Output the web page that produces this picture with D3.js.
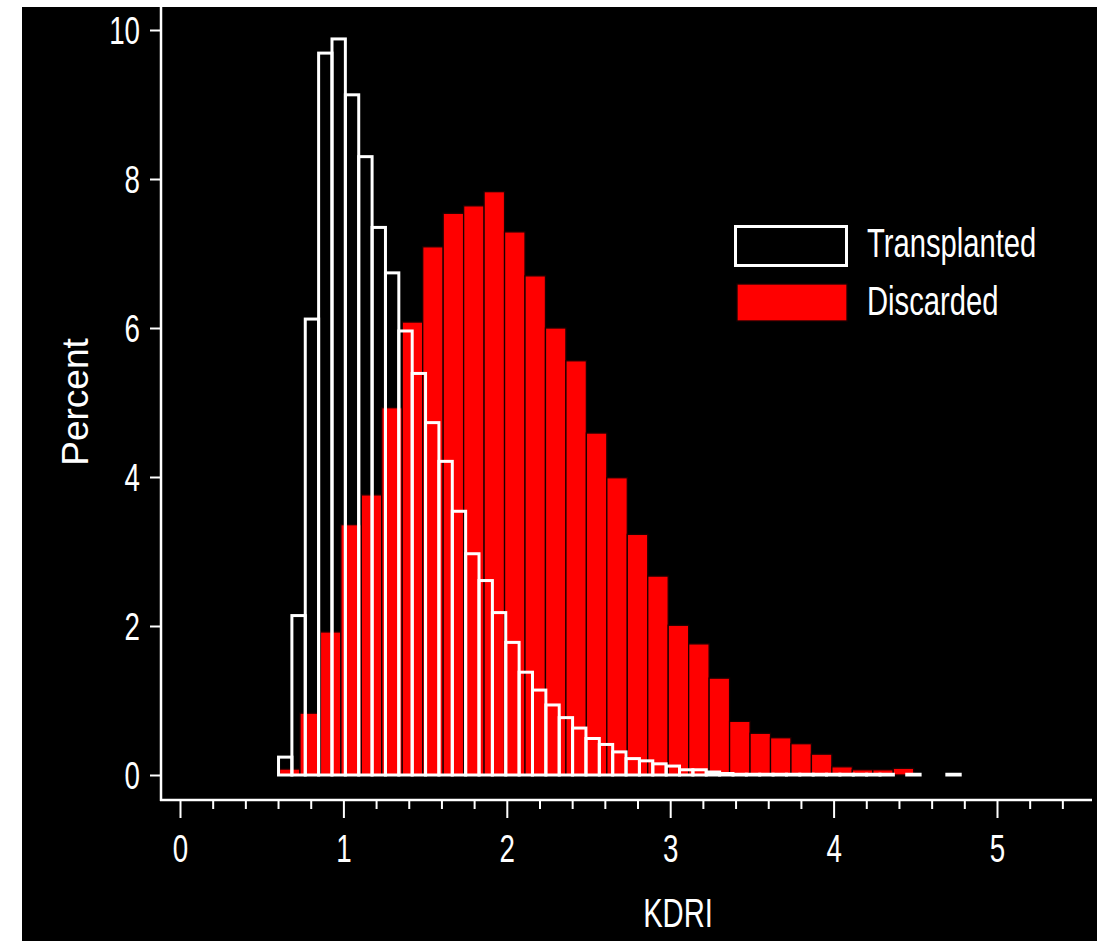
<!DOCTYPE html>
<html>
<head>
<meta charset="utf-8">
<script src="https://cdn.jsdelivr.net/npm/d3@7"></script>
<style>
  html, body { margin: 0; padding: 0; background: #ffffff; }
  svg { display: block; }
  text { font-family: "Liberation Sans", Arial, Helvetica, sans-serif; fill: #ffffff; }
</style>
</head>
<body>
<svg id="chart" width="1097" height="941"></svg>
<script>
// ---------------- data ----------------
const transplantedStart = 0.603;
const transplantedWidth = 0.0818;
const transplanted = [
  0.24, 2.14, 6.12, 9.69, 9.88, 9.13, 8.30, 7.35, 6.74, 5.96,
  5.39, 4.73, 4.21, 3.54, 2.97, 2.61, 2.18, 1.78, 1.38, 1.14,
  0.94, 0.77, 0.63, 0.49, 0.41, 0.31, 0.22, 0.19, 0.15, 0.12,
  0.07, 0.07, 0.04, 0.02, 0.01, 0.01, 0.01, 0.01, 0.01, 0.01,
  0.01, 0.01, 0.01, 0.01, 0.01, 0.01, 0, 0.01, 0, 0,
  0.01
];
const discardedStart = 0.609;
const discardedWidth = 0.1252;
const discarded = [
  0.08, 0.83, 1.92, 3.36, 3.76, 4.93, 6.08, 7.09, 7.54, 7.64,
  7.83, 7.29, 6.70, 6.00, 5.56, 4.59, 3.99, 3.23, 2.67, 2.01,
  1.76, 1.30, 0.72, 0.56, 0.50, 0.42, 0.28, 0.11, 0.07, 0.07,
  0.09
];
const seriesNames = ["Transplanted", "Discarded"];
const xMajorTicks = [0, 1, 2, 3, 4, 5];
const xMinorTicks = [0.2, 0.4, 0.6, 0.8, 1.2, 1.4, 1.6, 1.8, 2.2, 2.4, 2.6, 2.8,
                     3.2, 3.4, 3.6, 3.8, 4.2, 4.4, 4.6, 4.8, 5.2, 5.4];
const yTicks = [0, 2, 4, 6, 8, 10];
const xTitle = "KDRI";
const yTitle = "Percent";

// ---------------- layout ----------------
const svg = d3.select("#chart");
const SX = 0.73; // horizontal condensing of text

svg.append("rect").attr("x", 22).attr("y", 7).attr("width", 1097 - 22).attr("height", 941 - 7)
  .attr("fill", "#000000");

const x = d3.scaleLinear().domain([0, 5]).range([180, 997]);
const y = d3.scaleLinear().domain([0, 10]).range([775, 30]);

const xAxisY = 800, yAxisX = 161;

// discarded (red, filled) bars first
const dData = discarded.map((v, i) => ({ x0: discardedStart + i * discardedWidth, v }))
  .filter(d => d.v > 0);
svg.append("g").selectAll("rect").data(dData).join("rect")
  .attr("x", d => x(d.x0))
  .attr("width", d => x(d.x0 + discardedWidth) - x(d.x0))
  .attr("y", d => y(d.v))
  .attr("height", d => y(0) - y(d.v))
  .attr("fill", "#ff0000")
  .attr("stroke", "#1a0000")
  .attr("stroke-width", 1.3);

// transplanted (white outline) bars on top
const tData = transplanted.map((v, i) => ({ x0: transplantedStart + i * transplantedWidth, v }))
  .filter(d => d.v > 0);
svg.append("g").selectAll("rect").data(tData).join("rect")
  .attr("x", d => x(d.x0))
  .attr("width", d => x(d.x0 + transplantedWidth) - x(d.x0))
  .attr("y", d => y(d.v))
  .attr("height", d => y(0) - y(d.v))
  .attr("fill", "none")
  .attr("stroke", "#ffffff")
  .attr("stroke-width", 3);

// ---------------- axes ----------------
// axis lines
svg.append("line").attr("x1", yAxisX).attr("x2", yAxisX).attr("y1", 7).attr("y2", xAxisY + 1)
  .attr("stroke", "#ffffff").attr("stroke-width", 2.5);
svg.append("line").attr("x1", yAxisX - 1).attr("x2", 1092).attr("y1", xAxisY).attr("y2", xAxisY)
  .attr("stroke", "#ffffff").attr("stroke-width", 2.5);

// x major
const gxMaj = svg.append("g").attr("transform", `translate(0,${xAxisY})`)
  .call(d3.axisBottom(x).tickValues(xMajorTicks).tickSize(18).tickFormat(d3.format("d")));
gxMaj.select(".domain").remove();
gxMaj.selectAll(".tick line").attr("stroke", "#ffffff").attr("stroke-width", 2);
gxMaj.selectAll(".tick text")
  .attr("y", 62).attr("dy", 0)
  .attr("font-size", 38)
  .attr("fill", "#ffffff")
  .attr("transform", `scale(${SX},1)`);

// x minor
const gxMin = svg.append("g").attr("transform", `translate(0,${xAxisY})`)
  .call(d3.axisBottom(x).tickValues(xMinorTicks).tickSize(9).tickFormat(""));
gxMin.select(".domain").remove();
gxMin.selectAll(".tick line").attr("stroke", "#ffffff").attr("stroke-width", 2);

// y axis
const gy = svg.append("g").attr("transform", `translate(${yAxisX},0)`)
  .call(d3.axisLeft(y).tickValues(yTicks).tickSize(11).tickFormat(d3.format("d")));
gy.select(".domain").remove();
gy.selectAll(".tick line").attr("stroke", "#ffffff").attr("stroke-width", 2);
gy.selectAll(".tick text")
  .attr("x", -21 / SX).attr("dy", "0.36em")
  .attr("font-size", 38)
  .attr("fill", "#ffffff")
  .attr("text-anchor", "end")
  .attr("transform", `scale(${SX},1)`);

// titles
svg.append("text")
  .attr("transform", `translate(678,927) scale(${SX},1)`)
  .attr("text-anchor", "middle")
  .attr("font-size", 40)
  .text(xTitle);

svg.append("text")
  .attr("transform", `translate(88,402) rotate(-90)`)
  .attr("text-anchor", "middle")
  .attr("font-size", 37)
  .text(yTitle);

// ---------------- legend ----------------
const legend = svg.append("g");
legend.append("rect").attr("x", 735.5).attr("y", 226.5).attr("width", 111).attr("height", 39)
  .attr("fill", "none").attr("stroke", "#ffffff").attr("stroke-width", 3);
legend.append("rect").attr("x", 737).attr("y", 284).attr("width", 110).attr("height", 37)
  .attr("fill", "#ff0000").attr("stroke", "#1a0000").attr("stroke-width", 1.3);
legend.append("text")
  .attr("transform", `translate(867,257) scale(${SX},1)`)
  .attr("font-size", 40)
  .text(seriesNames[0]);
legend.append("text")
  .attr("transform", `translate(867,315) scale(${SX},1)`)
  .attr("font-size", 40)
  .text(seriesNames[1]);
</script>
</body>
</html>
